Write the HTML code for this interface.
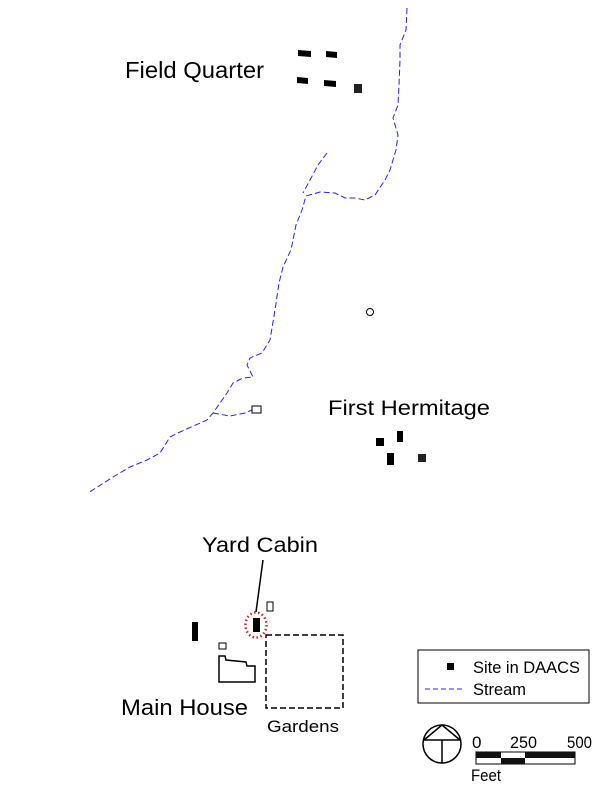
<!DOCTYPE html>
<html><head><meta charset="utf-8"><style>
html,body{margin:0;padding:0;background:#fff;}
svg{display:block;}
text{font-family:"Liberation Sans",Arial,sans-serif;fill:#000;}
</style></head><body>
<svg width="612" height="792" viewBox="0 0 612 792" xmlns="http://www.w3.org/2000/svg">
<g fill="none" stroke="#2222ff" stroke-width="1" stroke-dasharray="6,3">
<polyline points="407,8 406,30 400,45 400,60 399,85 398,105 393,118 398,135 396,150 390,170 385,180 375,195 365,200 355,198 345,198 335,193 320,192 306,196 302,210 296,225 292,245 290,252 283,267 279,283 275,310 270,340 262,353 250,358 247,365 253,377 243,378 233,383 227,393 213,413 207,420 180,432 170,437 160,453 147,460 130,467 113,477 88,493"/>
<polyline points="327,153 318,165 310,180 303,193"/>
<polyline points="213,413 230,416 245,413 252,410"/>
</g>
<g fill="#000">
<polygon points="298,50 311,51 311,57 298,56"/>
<polygon points="326,51 337,52 337,58 326,57"/>
<polygon points="297,77 308,78 308,84 297,83"/>
<polygon points="324,80 336,81 336,87 324,86"/>
<rect x="354" y="84" width="8" height="9" fill="#222"/>
</g>
<text x="125" y="78" font-size="23" textLength="139" lengthAdjust="spacingAndGlyphs">Field Quarter</text>
<circle cx="370" cy="312" r="3.5" fill="none" stroke="#000" stroke-width="1"/>
<rect x="252" y="406" width="9" height="7" fill="#fff" stroke="#000" stroke-width="1"/>
<text x="328" y="415" font-size="21" textLength="162" lengthAdjust="spacingAndGlyphs">First Hermitage</text>
<g fill="#000">
<rect x="376" y="438" width="8" height="8"/>
<rect x="397" y="431" width="6" height="11"/>
<rect x="387" y="453" width="7" height="12"/>
<rect x="418" y="454" width="8" height="8" fill="#222"/>
</g>
<text x="202" y="552" font-size="21" textLength="116" lengthAdjust="spacingAndGlyphs">Yard Cabin</text>
<line x1="263" y1="560" x2="256" y2="612" stroke="#000" stroke-width="1.5"/>
<ellipse cx="256" cy="625" rx="10.5" ry="12.5" fill="none" stroke="#d42020" stroke-width="2.5" stroke-dasharray="1.5,2.5"/>
<rect x="253" y="618" width="7" height="14" fill="#000"/>
<rect x="267" y="602" width="6" height="9" fill="#fff" stroke="#000" stroke-width="1"/>
<rect x="192" y="622" width="6" height="19" fill="#000"/>
<rect x="219" y="643" width="7" height="6" fill="#fff" stroke="#000" stroke-width="1"/>
<polygon points="219,656 225,656 226,660 246,662 247,666 255,666 255,682 219,682" fill="none" stroke="#000" stroke-width="1.5"/>
<rect x="266" y="635" width="77" height="73" fill="none" stroke="#000" stroke-width="1.5" stroke-dasharray="6,3"/>
<text x="121" y="715" font-size="22" textLength="127" lengthAdjust="spacingAndGlyphs">Main House</text>
<text x="267" y="732" font-size="17" textLength="72" lengthAdjust="spacingAndGlyphs">Gardens</text>
<rect x="418" y="650" width="171" height="53" fill="#fff" stroke="#000" stroke-width="1"/>
<rect x="447" y="663" width="7" height="7" fill="#000"/>
<text x="473" y="673" font-size="17" textLength="107" lengthAdjust="spacingAndGlyphs">Site in DAACS</text>
<line x1="425" y1="689" x2="462" y2="689" stroke="#2222ff" stroke-width="1" stroke-dasharray="5,3"/>
<text x="473" y="695" font-size="17" textLength="53" lengthAdjust="spacingAndGlyphs">Stream</text>
<g fill="none" stroke="#000" stroke-width="1.5">
<circle cx="442" cy="744" r="19"/>
<polyline points="424,740 442,725 460,740"/>
<line x1="423" y1="740" x2="461" y2="740"/>
<line x1="442" y1="740" x2="442" y2="763"/>
</g>
<text x="472" y="748" font-size="17">0</text>
<text x="510" y="748" font-size="17" textLength="27" lengthAdjust="spacingAndGlyphs">250</text>
<text x="567" y="748" font-size="17" textLength="25" lengthAdjust="spacingAndGlyphs">500</text>
<rect x="476" y="752" width="99" height="12" fill="#fff" stroke="#000" stroke-width="1"/>
<rect x="476" y="752" width="25" height="6" fill="#111"/>
<rect x="525" y="752" width="50" height="6" fill="#111"/>
<rect x="501" y="758" width="24" height="6" fill="#111"/>
<text x="471" y="781" font-size="17" textLength="30" lengthAdjust="spacingAndGlyphs">Feet</text>
</svg>
</body></html>
